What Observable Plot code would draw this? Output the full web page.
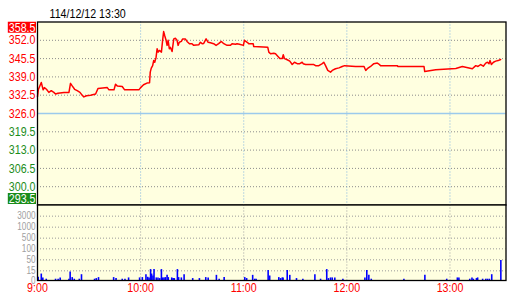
<!DOCTYPE html>
<html>
<head>
<meta charset="utf-8">
<script src="https://cdn.jsdelivr.net/npm/d3@7"></script>
<script src="https://cdn.jsdelivr.net/npm/@observablehq/plot@0.6"></script>
<style>
  html, body { margin: 0; padding: 0; background: #ffffff; }
  #wrap { position: relative; width: 520px; height: 300px; }
  #wrap > svg { position: absolute; left: 0; top: 0; }
</style>
</head>
<body>
<div id="wrap"></div>
<script>
// ---- data (minutes after 9:00) ----
const title = "114/12/12 13:30";
const priceTime = [0,0.5,2.2,3.3,4,5.2,6.6,8,9.5,10.5,11.9,15.4,18.3,19.2,20.2,21.6,23.1,24.7,26,27,28.5,30.9,33.8,35.2,40.6,41.6,44.5,45.4,46.4,49.3,50.7,59,60,61.7,63.7,65.2,65.6,66.2,67,67.6,68.2,69,69.6,70.2,70.9,72.1,72.8,73.4,74,74.8,75.4,76,76.7,77.3,78.3,79.3,80.2,81.2,81.8,82.5,83.7,84.5,86,87,88.4,89.9,90.9,93.8,94.8,95.8,96.7,98.1,99.3,100.6,102.5,103.9,105.4,107,108.4,110.3,112.3,113.2,115.2,116.1,117.5,119.8,120.4,122,122.9,125.5,125.8,134,134.6,135.6,137.5,138.5,139.4,141,142.4,143,143.7,145.3,146.8,148.2,149.5,151.1,152.6,154,154.6,156,160.8,161.8,163.7,165.7,166.6,167.6,168.9,170.5,171.5,173.4,175.4,177.3,178.7,185.1,190,191,191.9,193.8,195.7,197.7,198.7,199.6,209.4,209.6,224.9,225.3,231.7,243.4,247.2,253,255,256.3,257.9,259.4,260.8,261.8,262.7,263.3,264.1,265.3,266.6,268,269.5];
const priceValue = [332.0,334.5,337.0,334.4,335.2,334.6,333.5,334.1,333.5,332.9,333.2,333.5,333.5,336.7,335.8,334.6,334.1,333.5,332.5,331.9,332.3,332.5,332.9,334.9,335.2,334.4,334.4,336.4,335.8,335.6,334.4,334.4,335.2,336.2,336.8,336.9,340.7,342.1,343.0,344.8,344.2,346.0,349.0,347.8,348.4,347.8,352.0,355.1,353.7,352.0,350.2,352.0,349.0,349.5,348.0,352.5,352.7,352.0,350.2,351.3,351.6,352.5,352.5,351.6,350.8,350.8,350.2,350.4,351.3,350.8,350.9,352.5,351.3,351.1,350.8,350.2,350.8,351.6,350.8,350.2,350.2,350.8,350.6,350.8,350.6,350.2,352.0,351.3,350.8,350.8,349.8,349.5,347.8,347.2,347.4,347.2,346.6,345.5,345.5,346.9,345.5,345.1,344.6,343.4,344.2,343.7,343.7,344.2,343.7,343.4,343.4,343.0,343.0,343.7,344.2,343.0,341.3,340.7,341.3,341.9,342.2,342.7,343.0,342.7,342.7,341.3,341.9,342.7,343.7,343.9,343.5,343.0,343.0,342.7,342.7,340.9,341.5,342.0,342.7,341.9,343.0,342.7,343.4,342.8,343.9,344.2,343.7,344.8,343.4,344.2,344.6,344.8,345.2];
const volTime = [0.4,2.2,3.1,5.1,10.5,12.0,13.2,18.3,19.0,20.2,21.4,24.3,25.6,33.2,34.2,35.5,44.3,45.7,49.3,50.9,53.0,59.4,61.0,63.1,64.1,64.9,65.8,66.4,67.2,67.8,69.1,70.1,71.1,72.1,72.8,73.6,74.4,75.4,76.1,78.1,78.9,79.6,81.4,82.1,83.7,85.3,90.3,94.2,97.9,99.3,104.1,105.7,108.6,120.6,121.7,125.2,126.4,127.2,134.2,135.1,140.4,141.4,142.4,142.9,145.3,146.8,150.7,154.4,161.4,164.7,168.3,169.3,170.5,171.5,173.0,177.7,190.5,191.6,192.8,194.2,213.2,225.4,238.1,244.3,245.2,251.5,252.8,253.6,255.4,256.1,259.0,260.8,261.8,262.9,264.3,269.6];
const volValue = [5,10,4,2,2,2,4,2,13,4.5,2,2,9,2,3,4.5,4.5,3,2,2,4,4,4.5,9,5,4,19,10,7,19,4,4,3,19,4,4,4.5,8,4.5,4,3,3,19,4.5,4,9,3,3,4.5,4,8,2,4.5,4.5,3,8,2,2,16,7,4.5,3,4,4,16,8,3,2,9,2,19,3,4,4,4,2,4,16,8,2,2,8,2,4,4,2,4,2,3,4,2,2,2,2,9,48];
const priceTicks = [358.5,352.0,345.5,339.0,332.5,326.0,319.5,313.0,306.5,300.0,293.5];
const prevClose = 326.0;
const volTicks = [3000,1000,500,100,50,15,0];
const hourTicks = [0,60,120,180,240];
const hourLabels = ["9:00","10:00","11:00","12:00","13:00"];

const price = priceTime.map((t, i) => ({t, p: priceValue[i]}));
const vol = volTime.map((t, i) => ({t, v: volValue[i]}));

// pick a genuinely narrow font if one is installed, else squeeze Liberation Sans
function widthOf(font) {
  const c = document.createElement("canvas").getContext("2d");
  c.font = `40px ${font}`;
  return c.measureText("0123456789.:/0123456789").width;
}
const baseW = widthOf("'Liberation Sans'");
const narrow = ["Liberation Sans Narrow", "Arial Narrow", "DejaVu Sans Condensed"]
  .find(n => widthOf(`'${n}', monospace`) / baseW < 0.9 && Math.abs(widthOf(`'${n}', monospace`) - widthOf("monospace")) > 0.5);
const FONT = narrow ? `'${narrow}', sans-serif` : "'Liberation Sans', Arial, sans-serif";
const SQUEEZE = narrow ? 1 : 0.82;

const RED = "#ff0000", GREEN = "#1a8c1a", BG = "#ffffe0";
const xDomain = [0, 272.6];
const pMin = priceTicks[priceTicks.length - 1], pMax = priceTicks[0];

const common = {
  width: 520, height: 300, marginLeft: 37, marginRight: 14.5,
  style: {background: "transparent", fontFamily: FONT, fontSize: "13px", overflow: "visible"}
};

const plot1 = Plot.plot({
  ...common,
  marginTop: 21.5, marginBottom: 95.5,
  x: {domain: xDomain, axis: null},
  y: {domain: [pMin, pMax], axis: null},
  marks: [
    Plot.frame({fill: BG}),
    Plot.ruleY(priceTicks.filter(d => d !== pMin && d !== pMax && d !== prevClose), {stroke: "#8c8c8c", strokeDasharray: "1,2"}),
    Plot.ruleY([prevClose], {stroke: "#9ccaec", strokeWidth: 1.5}),
    Plot.ruleX(hourTicks.slice(1), {stroke: "#7fb3e0", strokeDasharray: "1,2"}),
    Plot.line(price, {x: "t", y: "p", stroke: RED, strokeWidth: 1.5}),
    Plot.frame({stroke: "black", strokeWidth: 1.3}),
    Plot.text(priceTicks.filter(d => d >= prevClose && d !== pMax), {y: d => d, text: d => d.toFixed(1), frameAnchor: "left", textAnchor: "end", dx: -2, fill: RED}),
    Plot.text(priceTicks.filter(d => d < prevClose && d !== pMin), {y: d => d, text: d => d.toFixed(1), frameAnchor: "left", textAnchor: "end", dx: -2, fill: GREEN}),
    // extreme labels anchored to the frame corners (top = max, bottom = min)
    Plot.text([pMax.toFixed(1)], {frameAnchor: "top-left", textAnchor: "end", dx: -2, dy: 0.5, fill: RED}),
    Plot.text([pMin.toFixed(1)], {frameAnchor: "bottom-left", textAnchor: "end", dx: -2, dy: -2, fill: GREEN}),
    Plot.text([title], {frameAnchor: "top-left", textAnchor: "start", dx: 12, dy: -13.5, fill: "black"})
  ]
});

const plot2 = Plot.plot({
  ...common,
  marginTop: 204.5, marginBottom: 20,
  x: {domain: xDomain, axis: null},
  y: {type: "linear", domain: [0, 15, 50, 100, 500, 1000, 3000, 5000],
      range: [280, 270.33, 259.33, 248.33, 237.67, 226.67, 215.67, 204.5], axis: null},
  marks: [
    Plot.frame({fill: BG}),
    Plot.ruleY(volTicks.filter(d => d > 0), {stroke: "#999999", strokeDasharray: "1,2"}),
    Plot.ruleX(hourTicks.slice(1), {stroke: "#a0a0a0", strokeDasharray: "1,2"}),
    Plot.ruleX(vol, {x: "t", y1: 0, y2: "v", stroke: "#0000ff", strokeWidth: 1.6}),
    Plot.frame({stroke: "black", strokeWidth: 1.3}),
    Plot.text(volTicks, {y: d => d, text: d => String(d), frameAnchor: "left", textAnchor: "end", dx: -2, fill: "#a0a0a0", fontSize: 10}),
    Plot.text(hourTicks, {x: d => d, text: (d, i) => hourLabels[i], frameAnchor: "bottom", dy: 11.5, fill: RED})
  ]
});

const wrap = document.getElementById("wrap");
wrap.appendChild(plot1);
wrap.appendChild(plot2);

// squeeze text horizontally if no narrow font is available
if (SQUEEZE !== 1) {
  for (const svg of [plot1, plot2]) {
    svg.querySelectorAll("text").forEach(t => {
      const w = t.getComputedTextLength();
      if (w > 0) {
        t.setAttribute("textLength", (w * SQUEEZE).toFixed(2));
        t.setAttribute("lengthAdjust", "spacingAndGlyphs");
      }
    });
  }
}

// boxed max / min labels: coloured box behind white text
try {
  const boxColor = {[pMax.toFixed(1)]: RED, [pMin.toFixed(1)]: GREEN};
  plot1.querySelectorAll("text").forEach(t => {
    const key = (t.textContent || "").trim();
    if (!(key in boxColor)) return;
    const bb = t.getBBox(); // local coords (before the text's own transform)
    const w = t.hasAttribute("textLength") ? +t.getAttribute("textLength") : bb.width;
    const right = bb.x + bb.width;
    const cy = bb.y + bb.height / 2;
    const r = document.createElementNS("http://www.w3.org/2000/svg", "rect");
    if (t.getAttribute("transform")) r.setAttribute("transform", t.getAttribute("transform"));
    r.setAttribute("x", right - w - 1);
    r.setAttribute("y", cy - 5.5);
    r.setAttribute("width", w + 1.5);
    r.setAttribute("height", 11);
    r.setAttribute("fill", boxColor[key]);
    t.parentNode.insertBefore(r, t);
    t.setAttribute("fill", "white");
    t.style.fill = "white";
  });
} catch (e) { console.error(e); }
</script>
</body>
</html>
